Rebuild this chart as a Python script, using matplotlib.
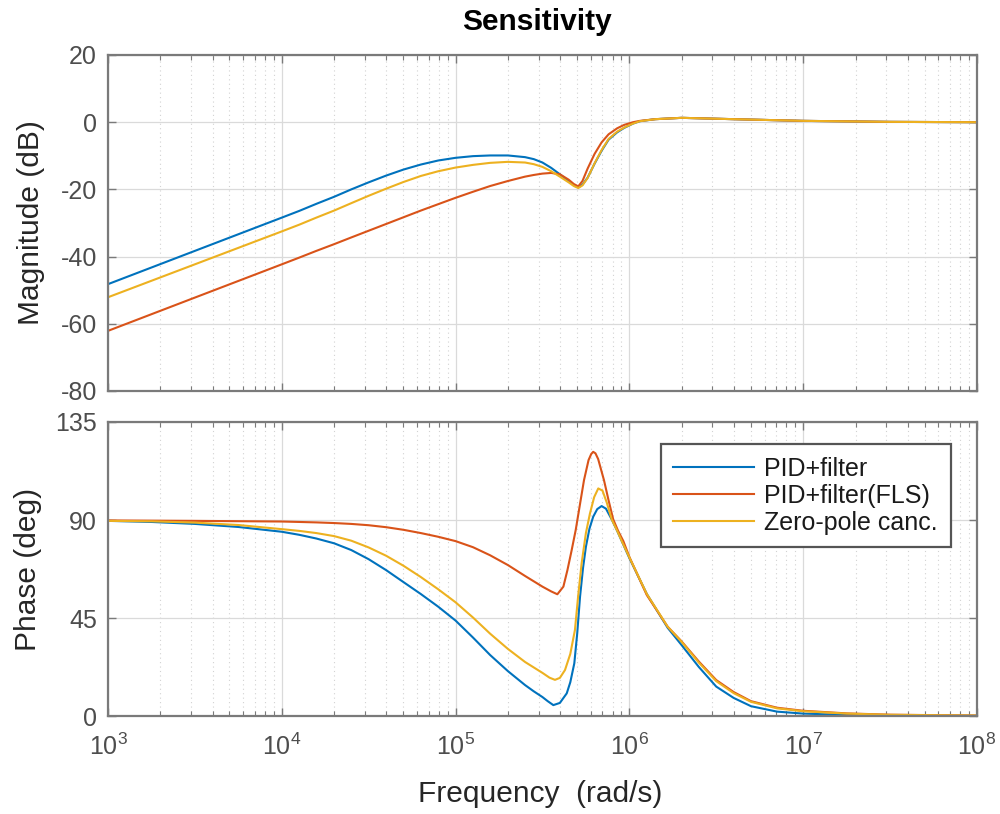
import matplotlib
matplotlib.use("Agg")
import matplotlib.pyplot as plt
from matplotlib.ticker import LogLocator, NullFormatter, FixedLocator

plt.rcParams['font.family'] = ['Liberation Sans', 'DejaVu Sans']
plt.rcParams['axes.unicode_minus'] = False
plt.rcParams['mathtext.fontset'] = 'custom'
plt.rcParams['mathtext.rm'] = 'Liberation Sans'

# ---- data ------------------------------------------------------------
series_names = ["PID+filter", "PID+filter(FLS)", "Zero-pole canc."]
series_colors = ["#0072BD", "#D95319", "#EDB120"]

# magnitude of the sensitivity function (dB) on a shared frequency list (rad/s)
mag_freq = [1.00e3, 3.16e3, 1.00e4, 1.26e4, 1.58e4, 2.00e4, 2.51e4, 3.16e4,
            3.98e4, 5.01e4, 6.31e4, 7.94e4, 1.00e5, 1.26e5, 1.58e5, 2.00e5,
            2.51e5, 2.82e5, 3.16e5, 3.55e5, 3.98e5, 4.47e5, 4.79e5, 5.08e5,
            5.37e5, 5.75e5, 6.31e5, 6.92e5, 7.59e5, 8.51e5, 9.33e5, 1.05e6,
            1.15e6, 1.41e6, 2.00e6, 3.98e6, 1.00e7, 3.16e7, 1.00e8]
mag_pid = [-48.2, -38.3, -28.4, -26.4, -24.3, -22.2, -20.0, -17.9,
           -15.9, -14.1, -12.6, -11.4, -10.6, -10.1, -9.9, -9.9,
           -10.4, -11.0, -12.0, -13.6, -15.5, -17.5, -18.7, -19.4,
           -18.6, -16.5, -12.3, -8.5, -5.2, -3.0, -1.7, -0.4,
           0.3, 0.9, 1.3, 0.9, 0.4, 0.1, 0.0]
mag_fls = [-62.1, -52.2, -42.3, -40.3, -38.3, -36.3, -34.3, -32.3,
           -30.3, -28.3, -26.3, -24.4, -22.5, -20.7, -19.0, -17.5,
           -16.2, -15.7, -15.3, -15.1, -15.5, -17.1, -18.4, -19.1,
           -17.5, -13.8, -9.4, -6.0, -3.6, -1.8, -0.8, 0.0,
           0.4, 0.9, 1.3, 0.9, 0.4, 0.1, 0.0]
mag_zp = [-52.1, -42.3, -32.5, -30.5, -28.4, -26.3, -24.1, -21.9,
          -19.8, -17.8, -16.0, -14.6, -13.5, -12.7, -12.1, -11.8,
          -12.0, -12.5, -13.3, -14.6, -16.2, -17.9, -19.0, -19.6,
          -18.8, -16.6, -12.2, -8.3, -5.0, -2.8, -1.6, -0.4,
          0.3, 0.9, 1.3, 0.9, 0.4, 0.1, 0.0]

# phase (deg)
ph_freq_pid = [1.00e3, 1.78e3, 3.16e3, 5.62e3, 1.00e4, 1.26e4, 1.58e4, 2.00e4,
               2.51e4, 3.16e4, 3.98e4, 5.01e4, 6.31e4, 7.94e4, 1.00e5, 1.26e5,
               1.58e5, 2.00e5, 2.51e5, 2.82e5, 3.16e5, 3.39e5, 3.65e5, 3.98e5,
               4.36e5, 4.57e5, 4.82e5, 5.01e5, 5.20e5, 5.41e5, 5.62e5, 5.89e5,
               6.19e5, 6.53e5, 6.92e5, 7.33e5, 7.91e5, 8.51e5, 9.04e5, 1.00e6,
               1.26e6, 1.66e6, 2.00e6, 2.51e6, 3.16e6, 3.98e6, 5.01e6, 7.08e6,
               1.00e7, 1.78e7, 3.16e7, 1.00e8]
ph_pid = [89.6, 89.1, 88.2, 86.8, 84.6, 83.2, 81.5, 79.3,
          76.2, 72.0, 67.0, 61.5, 56.0, 50.2, 43.8, 36.0,
          28.0, 20.6, 14.2, 11.3, 8.7, 6.8, 5.0, 6.0,
          10.4, 15.5, 24.2, 38.0, 54.8, 68.0, 77.7, 86.0,
          91.5, 95.0, 96.4, 95.2, 90.3, 85.0, 80.3, 72.5,
          56.0, 40.5, 32.5, 22.5, 13.5, 8.3, 4.5, 2.0,
          1.1, 0.5, 0.25, 0.1]

ph_freq_fls = [1.00e3, 3.16e3, 1.00e4, 1.26e4, 1.58e4, 2.00e4, 2.51e4, 3.16e4,
               3.98e4, 5.01e4, 6.31e4, 7.94e4, 1.00e5, 1.26e5, 1.58e5, 2.00e5,
               2.51e5, 3.16e5, 3.55e5, 3.85e5, 4.17e5, 4.40e5, 4.65e5, 4.91e5,
               5.19e5, 5.48e5, 5.82e5, 6.03e5, 6.19e5, 6.38e5, 6.61e5, 7.14e5,
               7.59e5, 8.07e5, 8.61e5, 9.23e5, 1.00e6,
               1.26e6, 1.66e6, 2.00e6, 2.51e6, 3.16e6, 3.98e6, 5.01e6, 7.08e6,
               1.00e7, 1.78e7, 3.16e7, 1.00e8]
ph_fls = [89.8, 89.6, 89.3, 89.1, 88.9, 88.6, 88.2, 87.6,
          86.7, 85.5, 84.0, 82.3, 80.3, 77.5, 73.8, 69.3,
          64.3, 59.4, 57.2, 55.9, 59.4, 67.0, 76.0, 85.4,
          97.0, 108.3, 117.5, 120.3, 121.3, 120.6, 118.0, 108.3,
          99.0, 90.3, 85.0, 80.3, 73.0,
          55.5, 41.0, 34.2, 25.0, 16.5, 11.0, 6.8, 3.8,
          2.4, 1.2, 0.6, 0.2]

ph_freq_zp = [1.00e3, 1.78e3, 3.16e3, 5.62e3, 1.00e4, 1.26e4, 1.58e4, 2.00e4,
              2.51e4, 3.16e4, 3.98e4, 5.01e4, 6.31e4, 7.94e4, 1.00e5, 1.26e5,
              1.58e5, 2.00e5, 2.51e5, 3.16e5, 3.47e5, 3.73e5, 3.98e5, 4.26e5,
              4.57e5, 4.86e5, 5.07e5, 5.31e5, 5.62e5, 5.93e5, 6.27e5, 6.62e5,
              7.00e5, 7.41e5, 7.91e5, 8.51e5, 9.04e5, 1.00e6,
              1.26e6, 1.66e6, 2.00e6, 2.51e6, 3.16e6, 3.98e6, 5.01e6, 7.08e6,
              1.00e7, 1.78e7, 3.16e7, 1.00e8]
ph_zp = [89.6, 89.4, 88.8, 87.7, 85.8, 85.0, 84.0, 82.6,
         80.5, 77.4, 73.6, 69.0, 63.8, 58.2, 52.2, 45.2,
         37.8, 30.8, 24.8, 19.8, 17.6, 16.6, 17.5, 21.1,
         28.5, 39.5, 55.0, 70.1, 84.0, 93.0, 100.5, 104.5,
         103.5, 98.0, 90.3, 85.0, 80.3, 72.8,
         56.0, 41.0, 34.0, 24.5, 16.0, 10.5, 6.5, 3.5,
         2.2, 1.1, 0.55, 0.2]

mag_ticks = [-80, -60, -40, -20, 0, 20]
phase_ticks = [0, 45, 90, 135]

# ---- figure ------------------------------------------------------------
W, H = 1000, 814
fig = plt.figure(figsize=(W / 100, H / 100), dpi=100)

def frac_box(left, top, right, bottom):
    return [left / W, 1 - bottom / H, (right - left) / W, (bottom - top) / H]

ax_m = fig.add_axes(frac_box(108, 55, 977, 391))
ax_p = fig.add_axes(frac_box(108, 422, 977, 716), sharex=ax_m)

frame_col = "#7a7a7a"
tick_col = "#4d4d4d"
label_col = "#262626"

for ax in (ax_m, ax_p):
    ax.set_xscale("log")
    ax.set_xlim(1e3, 1e8)
    for sp in ax.spines.values():
        sp.set_color(frame_col)
        sp.set_linewidth(1.6)
    ax.xaxis.set_major_locator(LogLocator(base=10, numticks=10))
    ax.xaxis.set_minor_locator(LogLocator(base=10, subs=range(2, 10), numticks=20))
    ax.xaxis.set_minor_formatter(NullFormatter())
    ax.tick_params(which="both", direction="in", top=True, right=True,
                   colors=frame_col, labelcolor=tick_col, labelsize=18)
    ax.tick_params(which="major", length=6, width=1.0)
    ax.tick_params(which="minor", length=3.5, width=0.8)
    ax.tick_params(axis="y", pad=8)
    ax.tick_params(axis="x", pad=13)
    ax.grid(True, which="major", color="#dadada", linewidth=0.9, linestyle="-")
    ax.grid(True, which="minor", axis="x", color="#d2d2d2", linewidth=0.8,
            linestyle=(0, (1, 3)))
    ax.set_axisbelow(True)

# magnitude
for vals, col in zip([mag_pid, mag_fls, mag_zp], series_colors):
    ax_m.plot(mag_freq, vals, color=col, linewidth=1.5)
ax_m.set_ylim(-80, 20)
ax_m.yaxis.set_major_locator(FixedLocator(mag_ticks))
ax_m.tick_params(axis="x", labelbottom=False)
ax_m.set_ylabel("Magnitude (dB)", fontsize=21.5, color=label_col)
ax_m.yaxis.set_label_coords(-0.072, 0.5)

# phase
ph_sets = [(ph_freq_pid, ph_pid), (ph_freq_fls, ph_fls), (ph_freq_zp, ph_zp)]
for (fr, vals), col, name in zip(ph_sets, series_colors, series_names):
    ax_p.plot(fr, vals, color=col, linewidth=1.5, label=name)
ax_p.set_ylim(0, 135)
ax_p.yaxis.set_major_locator(FixedLocator(phase_ticks))
ax_p.set_ylabel("Phase (deg)", fontsize=21.5, color=label_col)
ax_p.yaxis.set_label_coords(-0.076, 0.5)
ax_p.set_xlabel("Frequency  (rad/s)", fontsize=21.5, color=label_col)
ax_p.xaxis.set_label_coords(0.497, -0.218)

leg = ax_p.legend(loc="upper left", bbox_to_anchor=(0.636, 0.925),
                  borderaxespad=0, fontsize=18, handlelength=3.25,
                  handletextpad=0.4, labelspacing=0.12, borderpad=0.5,
                  fancybox=False, framealpha=1, edgecolor="#555555")
leg.get_frame().set_linewidth(1.6)
for t in leg.get_texts():
    t.set_color("#1a1a1a")

fig.text(537 / W, 1 - 22 / H, "Sensitivity", ha="center", va="center",
         fontsize=21.5, fontweight="bold", color="#000000")

fig.savefig("out.png", dpi=100)
